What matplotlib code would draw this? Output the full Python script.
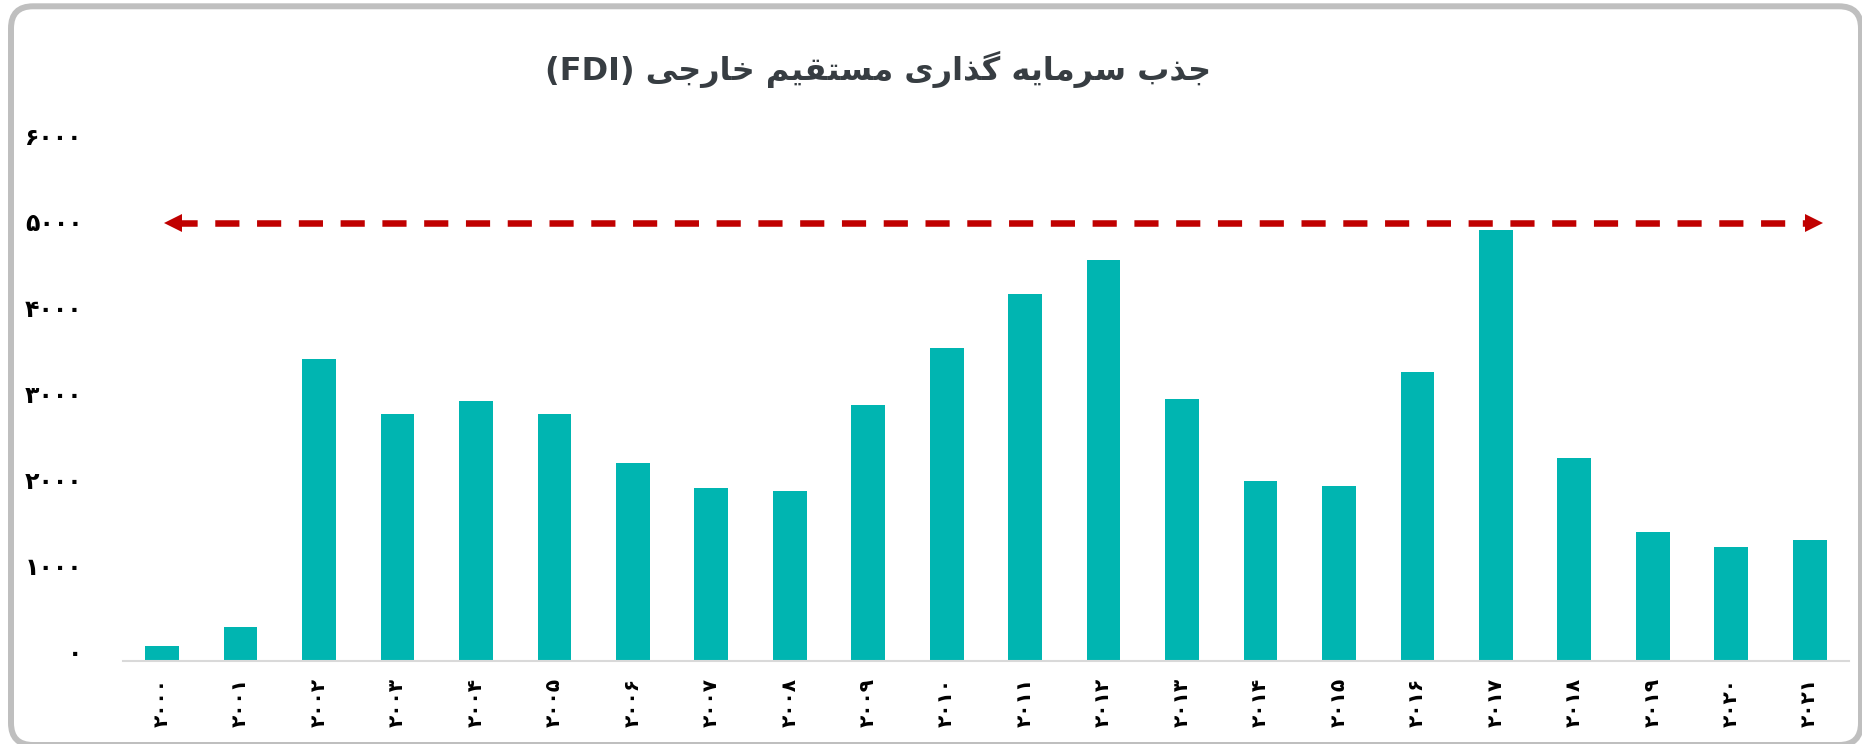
import matplotlib.pyplot as plt
from matplotlib.patches import FancyBboxPatch
from matplotlib.transforms import IdentityTransform, ScaledTranslation

# داده‌ها: جذب سرمایه گذاری مستقیم خارجی (میلیون دلار)
years = list(range(2000, 2022))
fdi = [180, 400, 3510, 2870, 3030, 2880, 2310, 2010, 1975, 2975, 3645,
       4265, 4660, 3045, 2095, 2040, 3365, 5015, 2365, 1500, 1335, 1415]
y_ticks = [0, 1000, 2000, 3000, 4000, 5000, 6000]

# خط چین قرمز (سقف)
arrow_level = 5100
arrow_start, arrow_end = 0.14, 21.06

title_fa = 'جذب سرمایه گذاری مستقیم خارجی'.replace('ي', '\u06cc')
title_latin = '(FDI)'

bar_color = '#00B5B1'
red = '#C00000'

FA_DIGITS = str.maketrans('0123456789', '۰۱۲۳۴۵۶۷۸۹')

# matplotlib حروف فارسی را به هم نمی‌چسباند، پس شکل‌ها دستی انتخاب می‌شوند
FORMS = {
    '\u0627': '\uFE8D\uFE8E',
    '\u0628': '\uFE8F\uFE90\uFE91\uFE92',
    '\u062A': '\uFE95\uFE96\uFE97\uFE98',
    '\u062C': '\uFE9D\uFE9E\uFE9F\uFEA0',
    '\u062E': '\uFEA5\uFEA6\uFEA7\uFEA8',
    '\u0630': '\uFEAB\uFEAC',
    '\u0631': '\uFEAD\uFEAE',
    '\u0633': '\uFEB1\uFEB2\uFEB3\uFEB4',
    '\u0642': '\uFED5\uFED6\uFED7\uFED8',
    '\u0645': '\uFEE1\uFEE2\uFEE3\uFEE4',
    '\u0647': '\uFEE9\uFEEA\uFEEB\uFEEC',
    '\u06CC': '\uFBFC\uFBFD\uFBFE\uFBFF',
    '\u06AF': '\uFB92\uFB93\uFB94\uFB95',
}


def shape(text):
    out = []
    for i, ch in enumerate(text):
        f = FORMS.get(ch)
        if f is None:
            out.append(ch)
            continue
        prev = text[i - 1] if i > 0 else ''
        nxt = text[i + 1] if i + 1 < len(text) else ''
        jp = prev in FORMS and len(FORMS[prev]) == 4
        jn = len(f) == 4 and nxt in FORMS
        if jp and jn:
            out.append(f[3])
        elif jp:
            out.append(f[1])
        elif jn:
            out.append(f[2])
        else:
            out.append(f[0])
    return ''.join(out)[::-1]


plt.rcParams['font.family'] = ['DejaVu Sans']

fig = plt.figure(figsize=(18.62, 7.44), dpi=100)
ax = fig.add_axes([0.066, 0.111, 0.927, 0.694])

x = list(range(len(years)))
ax.bar(x, fdi, width=0.43, color=bar_color, zorder=2)

# فلش دو طرفه
ax.plot([arrow_start, arrow_end], [arrow_level, arrow_level], color=red,
        lw=4.7, dashes=(3.7, 2.7), solid_capstyle='butt',
        dash_capstyle='butt', zorder=3)
ax.plot([arrow_start], [arrow_level], marker='<', ms=13, color=red, mew=0, zorder=3)
ax.plot([arrow_end], [arrow_level], marker='>', ms=13, color=red, mew=0, zorder=3)

ax.set_xlim(-0.5, len(years) - 0.5)
ax.set_ylim(0, 6000)
ax.set_yticks(y_ticks)
ax.set_yticklabels([str(v).translate(FA_DIGITS) for v in y_ticks],
                   fontsize=17, fontweight='bold')
ax.set_xticks(x)
ax.set_xticklabels([str(y).translate(FA_DIGITS) for y in years],
                   rotation=90, fontsize=14.5, fontweight='bold')
ax.tick_params(axis='y', length=0, pad=29)
ax.tick_params(axis='x', length=0, pad=12)

# برچسب‌های محور عمودی کمی بالاتر از خط تیک
shift = ScaledTranslation(0, 7 / 72, fig.dpi_scale_trans)
for lab in ax.get_yticklabels():
    lab.set_transform(lab.get_transform() + shift)

for s in ['top', 'right', 'left']:
    ax.spines[s].set_visible(False)
ax.spines['bottom'].set_color('#D9D9D9')
ax.spines['bottom'].set_linewidth(1.5)

fig.text(0.4716, 0.907, title_latin + ' ' + shape(title_fa),
         ha='center', va='center', fontsize=23, fontweight='bold',
         color='#373D42')

# قاب گرد دور نمودار
frame = FancyBboxPatch((11, -1), 1850, 738.7,
                       boxstyle='round,pad=0,rounding_size=22',
                       transform=IdentityTransform(), fill=False,
                       edgecolor='#BFBFBF', linewidth=4.3)
fig.add_artist(frame)

fig.savefig('out.png', dpi=100)
